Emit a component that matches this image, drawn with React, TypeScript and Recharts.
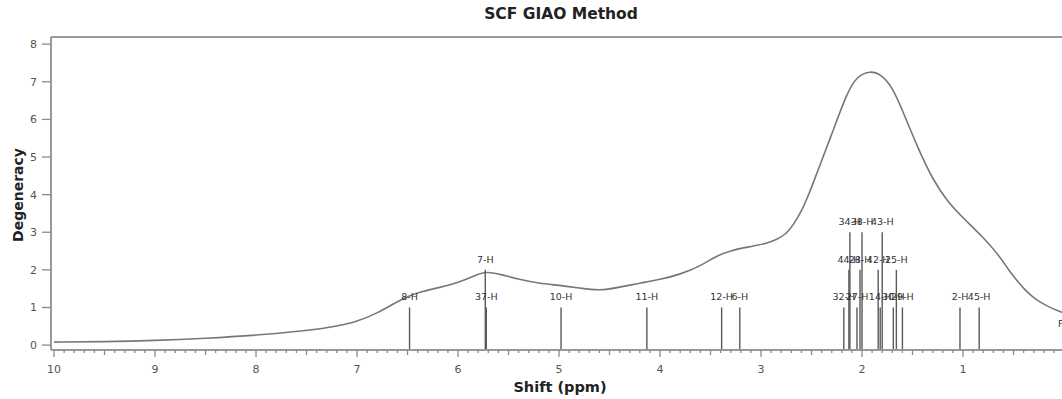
import React from 'react';
import { ComposedChart, Line, XAxis, YAxis, Scatter, ReferenceLine } from 'recharts';

// envelope curve
const curvePpm = [
  10.0, 9.5, 9.0, 8.5, 8.0, 7.5, 7.2, 7.0, 6.8, 6.65, 6.5, 6.35, 6.2, 6.0, 5.85, 5.72, 5.55, 5.4, 5.2, 5.0,
  4.8, 4.6, 4.4, 4.2, 4.0, 3.8, 3.6, 3.45, 3.3, 3.1, 2.95, 2.85, 2.75, 2.68, 2.6, 2.52, 2.45, 2.3, 2.15, 2.05,
  1.92, 1.8, 1.7, 1.6, 1.45, 1.3, 1.15, 1.0, 0.8, 0.63, 0.55, 0.47, 0.4, 0.31, 0.23, 0.15, 0.08, 0.0,
];
const curveDeg = [
  0.08, 0.09, 0.12, 0.18, 0.26, 0.38, 0.5, 0.62, 0.85, 1.08, 1.3, 1.43, 1.52, 1.66, 1.83, 1.97, 1.86, 1.75, 1.64, 1.59,
  1.52, 1.44, 1.54, 1.65, 1.74, 1.88, 2.1, 2.36, 2.52, 2.62, 2.7, 2.8, 2.95, 3.2, 3.55, 4.05, 4.55, 5.6, 6.7, 7.15,
  7.3, 7.18, 6.85, 6.25, 5.25, 4.4, 3.8, 3.38, 2.87, 2.34, 2.0, 1.73, 1.5, 1.28, 1.13, 1.02, 0.93, 0.85,
];

// stick spectrum
const stickPpm = [
  6.48, 5.73, 5.72, 4.98, 4.13, 3.39, 3.21, 2.18, 2.12, 2.13, 2.05, 2.02, 2.0, 1.84, 1.82, 1.8, 1.69, 1.66,
  1.6, 1.03, 0.84,
];
const stickHeight = [1, 2, 1, 1, 1, 1, 1, 1, 3, 2, 1, 2, 3, 2, 1, 3, 1, 2, 1, 1, 1];
const stickLabel = [
  '8-H', '7-H', '37-H', '10-H', '11-H', '12-H', '6-H', '32-H', '34-H', '44-H', '27-H', '28-H', '38-H', '42-H',
  '14-H', '43-H', '30-H', '25-H', '29-H', '2-H', '45-H',
];

// label cut off at the right edge of the plot
const edgeLabelPpm = [0.06];
const edgeLabelY = [0.48];
const edgeLabelText = ['F-H'];

const xTickLabels = [10, 9, 8, 7, 6, 5, 4, 3, 2, 1];
const yTickLabels = [0, 1, 2, 3, 4, 5, 6, 7, 8];

const X_DOMAIN: [number, number] = [0.02, 10.03];
const Y_DOMAIN: [number, number] = [-0.13, 8.19];

const curve = curvePpm.map((x, i) => ({ x, y: curveDeg[i] }));
const sticks = stickPpm.map((x, i) => ({ x, y: stickHeight[i], label: stickLabel[i] }));
const edgeLabels = edgeLabelPpm.map((x, i) => ({ x, y: edgeLabelY[i], label: edgeLabelText[i] }));

// minor ticks every 0.1 ppm
const xTicks: number[] = [];
for (let i = 1; i <= 100; i++) xTicks.push(i / 10);

const font = '"DejaVu Sans", sans-serif';

const XTick = (props: any) => {
  const { x, y, payload } = props;
  const v = payload.value;
  const major = Math.abs(v - Math.round(v)) < 1e-6;
  const half = Math.abs(v * 2 - Math.round(v * 2)) < 1e-6;
  const len = major ? 7 : half ? 5 : 3;
  return (
    <g>
      <line x1={x} x2={x} y1={y} y2={y + len} stroke="#8a8a8a" strokeWidth={1.3} />
      {major && xTickLabels.includes(Math.round(v)) && (
        <text x={x} y={y + 23} textAnchor="middle" fontSize={11} fill="#555" fontFamily={font}>
          {Math.round(v)}
        </text>
      )}
    </g>
  );
};

const StickLabel = (props: any) => {
  const { cx, cy, payload } = props;
  return (
    <text x={cx} y={cy - 7} textAnchor="middle" fontSize={9.5} fill="#333" fontFamily={font}>
      {payload.label}
    </text>
  );
};

const EdgeLabel = (props: any) => {
  const { cx, cy, payload } = props;
  return (
    <text x={cx} y={cy} textAnchor="start" fontSize={9.5} fill="#333" fontFamily={font}>
      {payload.label}
    </text>
  );
};

export default function App() {
  return (
    <div
      style={{
        position: 'absolute',
        left: 0,
        top: 0,
        width: 1062,
        height: 399,
        overflow: 'hidden',
        background: '#fff',
        fontFamily: font,
      }}
    >
      <div
        style={{
          position: 'absolute',
          left: 561,
          top: 5,
          transform: 'translateX(-50%)',
          fontSize: 15.5,
          fontWeight: 'bold',
          color: '#222',
          whiteSpace: 'nowrap',
        }}
      >
        SCF GIAO Method
      </div>
      <ComposedChart width={1062} height={399} margin={{ top: 37, right: 0, bottom: 0, left: 0 }}>
        <XAxis
          type="number"
          dataKey="x"
          domain={X_DOMAIN}
          reversed
          allowDataOverflow
          ticks={xTicks}
          interval={0}
          tick={XTick}
          tickLine={false}
          tickSize={0}
          tickMargin={0}
          height={49}
          axisLine={{ stroke: '#999', strokeWidth: 2 }}
          label={() => (
            <text x={560} y={392} textAnchor="middle" fontSize={14.5} fontWeight="bold" fill="#222" fontFamily={font}>
              Shift (ppm)
            </text>
          )}
        />
        <YAxis
          type="number"
          domain={Y_DOMAIN}
          allowDataOverflow
          ticks={yTickLabels}
          interval={0}
          width={51}
          tickSize={9}
          tickMargin={5}
          tick={{ fontSize: 11, fill: '#555', fontFamily: font }}
          tickLine={{ stroke: '#8a8a8a', strokeWidth: 1.3 }}
          axisLine={{ stroke: '#999', strokeWidth: 2 }}
          label={() => (
            <text
              x={18}
              y={195}
              transform="rotate(-90 18 195)"
              textAnchor="middle"
              dominantBaseline="central"
              fontSize={14}
              fontWeight="bold"
              fill="#222"
              fontFamily={font}
            >
              Degeneracy
            </text>
          )}
        />
        {/* top frame line */}
        <ReferenceLine y={Y_DOMAIN[1]} stroke="#999" strokeWidth={2} ifOverflow="visible" />
        <Line
          data={curve}
          dataKey="y"
          type="basis"
          stroke="#777"
          strokeWidth={1.6}
          dot={false}
          activeDot={false}
          isAnimationActive={false}
        />
        {sticks.map((s, i) => (
          <ReferenceLine
            key={i}
            segment={[
              { x: s.x, y: Y_DOMAIN[0] },
              { x: s.x, y: s.y },
            ]}
            stroke="#5a5a5a"
            strokeWidth={1.4}
          />
        ))}
        <Scatter data={sticks} dataKey="y" shape={StickLabel} isAnimationActive={false} />
        <Scatter data={edgeLabels} dataKey="y" shape={EdgeLabel} isAnimationActive={false} />
      </ComposedChart>
    </div>
  );
}
